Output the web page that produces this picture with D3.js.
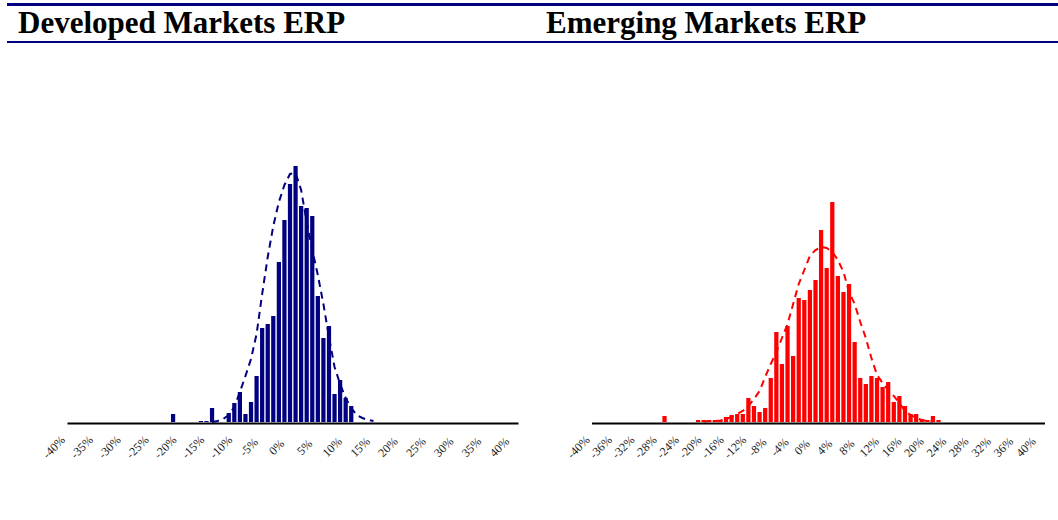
<!DOCTYPE html>
<html>
<head>
<meta charset="utf-8">
<script src="https://cdn.jsdelivr.net/npm/d3@7"></script>
<style>
  body { margin: 0; background: #fff; }
  text { font-family: "Liberation Serif", "Times New Roman", serif; }
</style>
</head>
<body>
<svg width="1058" height="520"></svg>
<script>
// developed markets ERP histogram (1% bins, counts)
var devBins   = [-21,-16,-15,-14,-11,-10,-9,-8,-7,-6,-5,-4,-3,-2,-1,0,1,2,3,4,5,6,7,8,9,10,11];
var devCounts = [8,1,1,14,9,19,30,8,20,46,94,98,106,160,202,238,256,216,214,206,126,84,96,28,42,24,16];
// fitted curve (dashed)
var devFitBins = [-14,-13,-12,-11,-10,-9,-8,-7,-6,-5,-4,-3,-2,-1,0,1,2,3,4,5,6,7,8,9,10,11,12,13,14,15];
var devFit     = [0,1,3,7,15,30,46,63,88,128,165,196,220,237,248,249,232,200,172,147,118,85,55,38,24,14,7,4,2,1];
var devTicks   = [-40,-35,-30,-25,-20,-15,-10,-5,0,5,10,15,20,25,30,35,40];

// emerging markets ERP histogram
var emBins   = [-27,-21,-20,-19,-18,-17,-16,-15,-14,-13,-12,-11,-10,-9,-8,-7,-6,-5,-4,-3,-2,-1,0,
                1,2,3,4,5,6,7,8,9,10,11,12,13,14,15,16,17,18,19,20,21,22];
var emCounts = [6,2,2,2,2,2,5,7,8,8,24,16,10,14,44,90,58,96,66,124,122,132,142,
                192,154,220,146,130,138,80,44,38,46,44,35,40,20,26,16,8,8,3,2,6,2];
var emFitBins = [-20,-19,-18,-17,-16,-15,-14,-13,-12,-11,-10,-9,-8,-7,-6,-5,-4,-3,-2,-1,
                 0,1,2,3,4,5,6,7,8,9,10,11,12,13,14,15,16,17,18,19,20,21];
var emFit     = [0.5,1,1,1.5,3,5,8,11,16,23,31,45,58,70,84,98,118,138,152,166,
                 172,175,174,170,162,150,130,118,100,84,64,47,39,32,26,19,11,7,4,2,1,0.5];
var emTicks   = [-40,-36,-32,-28,-24,-20,-16,-12,-8,-4,0,4,8,12,16,20,24,28,32,36,40];

var svg = d3.select("svg");

// header rules
svg.append("rect").attr("x", 7).attr("y", 3).attr("width", 1051).attr("height", 3).attr("fill", "#000080");
svg.append("rect").attr("x", 7).attr("y", 41).attr("width", 1051).attr("height", 2).attr("fill", "#000080");

function drawPanel(p) {
  var x = d3.scaleLinear().domain([-40.5, 40.5]).range(p.range);
  var y = d3.scaleLinear().domain([0, 260]).range([422, 162]);
  var bw = (x(1) - x(0)) * 0.76;
  var g = svg.append("g");

  g.append("text")
    .attr("x", p.titleX).attr("y", 33)
    .attr("font-size", "31px").attr("font-weight", "bold")
    .attr("fill", "#000")
    .text(p.title);

  var bars = p.bins.map(function(b, i) { return { bin: b, v: p.counts[i] }; });
  g.selectAll("rect.bar").data(bars).join("rect")
    .attr("class", "bar")
    .attr("x", function(d) { return x(d.bin) - bw / 2; })
    .attr("y", function(d) { return y(d.v); })
    .attr("width", bw)
    .attr("height", function(d) { return y(0) - y(d.v); })
    .attr("fill", p.color);

  var fit = p.fitBins.map(function(b, i) { return [b, p.fit[i]]; });
  g.append("path")
    .datum(fit)
    .attr("fill", "none")
    .attr("stroke", p.color)
    .attr("stroke-width", 2)
    .attr("stroke-dasharray", "7,5")
    .attr("d", d3.line().x(function(d) { return x(d[0]); }).y(function(d) { return y(d[1]); }));

  var axis = g.append("g")
    .attr("transform", "translate(2.5,423)")
    .call(d3.axisBottom(x).tickValues(p.ticks).tickSize(0).tickSizeOuter(0)
      .tickFormat(function(d) { return d + "%"; }));
  axis.select(".domain").attr("stroke", "#000").attr("stroke-width", 2);
  axis.selectAll("text")
    .attr("font-family", "'Liberation Serif', 'Times New Roman', serif")
    .attr("font-size", "12px")
    .attr("fill", "#222")
    .attr("y", 0).attr("dy", "0.35em")
    .attr("text-anchor", "middle")
    .attr("transform", "translate(-16.5,24) rotate(-45)");
}

drawPanel({ title: "Developed Markets ERP", titleX: 18, range: [64.5, 515.5], color: "#000080",
            bins: devBins, counts: devCounts, fitBins: devFitBins, fit: devFit, ticks: devTicks });
drawPanel({ title: "Emerging Markets ERP", titleX: 546, range: [589, 1042], color: "#ff0000",
            bins: emBins, counts: emCounts, fitBins: emFitBins, fit: emFit, ticks: emTicks });
</script>
</body>
</html>
